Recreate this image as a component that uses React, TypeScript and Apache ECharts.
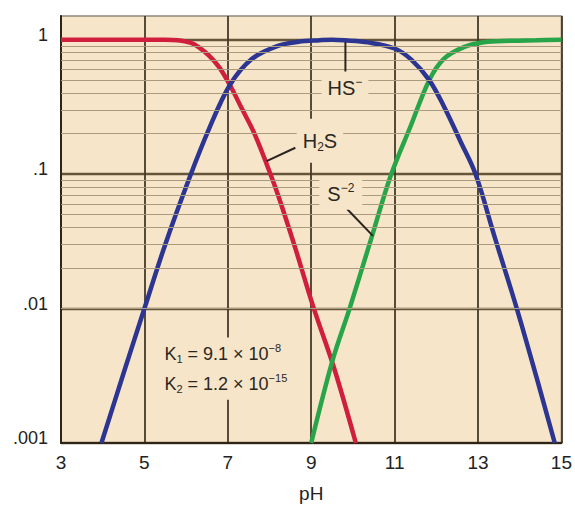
import React, { useEffect, useRef } from 'react';
import * as echarts from 'echarts';

// ---- data ----
const xTickValues = [3, 5, 7, 9, 11, 13, 15];
const yTickValues = [0.001, 0.01, 0.1, 1];
const yTickLabels = ['.001', '.01', '.1', '1'];
const minorDecades = [0.001, 0.01, 0.1];
const minorSteps = [2, 3, 4, 5, 6, 7, 8, 9];

const h2sData: [number, number][] = [
  [3, 1.0], [4, 1.0], [5, 1.0], [5.5, 1.0], [5.8, 0.99], [6.1, 0.95], [6.3, 0.88],
  [6.55, 0.76], [6.8, 0.62], [7.05, 0.46], [7.33, 0.31], [7.62, 0.206], [7.93, 0.119],
  [8.21, 0.069], [8.62, 0.028], [9.05, 0.0103], [9.55, 0.0036], [10.07, 0.001],
];
const hsData: [number, number][] = [
  [3.97, 0.001], [4.5, 0.0033], [5.0, 0.01], [5.5, 0.03], [6.07, 0.092], [6.55, 0.217],
  [7.05, 0.46], [7.58, 0.72], [8.2, 0.9], [8.7, 0.965], [9.2, 0.99], [9.5, 1.0], [9.8, 0.99],
  [10.36, 0.955], [11.0, 0.86], [11.4, 0.71], [11.83, 0.5], [12.18, 0.32], [12.58, 0.175],
  [12.94, 0.1], [13.4, 0.034], [13.93, 0.01], [14.4, 0.0031], [14.84, 0.001],
];
const s2Data: [number, number][] = [
  [9.0, 0.001], [9.52, 0.0042], [9.92, 0.01], [10.45, 0.034], [10.91, 0.098],
  [11.39, 0.23], [11.83, 0.5], [12.18, 0.72], [12.66, 0.88], [13.14, 0.956],
  [13.76, 0.98], [14.4, 0.99], [15, 1.0],
];

// annotation anchors in data coordinates (pH, fraction)
const hsLabelAt: [number, number] = [9.81, 0.44];
const hsTick: [number, number][] = [[9.82, 0.96], [9.82, 0.575]];
const h2sLabelAt: [number, number] = [9.21, 0.177];
const h2sLeader: [number, number][] = [[7.93, 0.125], [8.62, 0.157]];
const s2LabelAt: [number, number] = [9.71, 0.0713];
const s2Leader: [number, number][] = [[9.86, 0.055], [10.48, 0.0347]];
const kBox: [number, number][] = [[5.05, 0.0061], [8.6, 0.0021]];
const k1At: [number, number] = [5.48, 0.0046];
const k2At: [number, number] = [5.48, 0.00275];

const FONT = '"Liberation Sans", Arial, Helvetica, sans-serif';
const BEIGE = '#f6e5c8';
const TEXT = '#2a2722';

const minorValues: number[] = [];
minorDecades.forEach((d) => minorSteps.forEach((m) => minorValues.push(+(d * m).toPrecision(3))));

function richStyles(base: number, small: number) {
  return {
    m: { fontSize: base, fontFamily: FONT, fill: TEXT, lineHeight: base + 4 },
    sup: { fontSize: small, fontFamily: FONT, fill: TEXT, verticalAlign: 'top', lineHeight: 8 },
    sub: { fontSize: small, fontFamily: FONT, fill: TEXT, verticalAlign: 'bottom', lineHeight: 8 },
  } as any;
}

export default function App() {
  const ref = useRef<HTMLDivElement>(null);
  useEffect(() => {
    const el = ref.current;
    if (!el) return;
    const chart = echarts.init(el, null, { renderer: 'svg' });
    const lineCommon = {
      type: 'line' as const,
      smooth: 0.35,
      showSymbol: false,
      symbol: 'none',
      silent: true,
      z: 3,
    };
    chart.setOption({
      animation: false,
      backgroundColor: '#ffffff',
      grid: {
        left: 61, top: 16, right: 10, bottom: 65,
        show: true, backgroundColor: BEIGE, borderColor: '#8f887c', borderWidth: 1.5,
      },
      xAxis: {
        type: 'value', min: 3, max: 15, interval: 2,
        axisLine: { show: true, lineStyle: { color: '#2e2418', width: 2 } },
        axisTick: { show: false },
        axisLabel: {
          fontSize: 19, color: '#222', margin: 10, fontFamily: FONT,
          formatter: (v: number) => (xTickValues.includes(v) ? String(v) : ''),
        },
        splitLine: { show: true, lineStyle: { color: '#45392a', width: 1.8 } },
        name: 'pH', nameLocation: 'middle', nameGap: 41,
        nameTextStyle: { fontSize: 19, color: '#222', fontFamily: FONT },
      },
      yAxis: {
        type: 'log', logBase: 10, min: 0.001, max: 1.5, splitNumber: 3,
        axisLine: { show: true, lineStyle: { color: '#2e2418', width: 2 } },
        axisTick: { show: false },
        axisLabel: {
          fontSize: 18, color: '#222', margin: 13, fontFamily: FONT,
          verticalAlign: 'bottom', lineHeight: 10,
          formatter: (v: number) => {
            const i = yTickValues.findIndex((t) => Math.abs(Math.log10(v) - Math.log10(t)) < 1e-6);
            return i >= 0 ? yTickLabels[i] : '';
          },
        },
        splitLine: { show: true, showMaxLine: false, lineStyle: { color: '#665639', width: 2.4 } },
      },
      series: [
        {
          name: 'minor', type: 'line', data: [], silent: true, z: 1,
          markLine: {
            silent: true, symbol: 'none', animation: false,
            label: { show: false },
            lineStyle: { color: '#aa9b7f', width: 1.1, type: 'solid' },
            emphasis: { disabled: true },
            data: minorValues.map((v) => ({ yAxis: v })),
          },
        },
        { ...lineCommon, name: 'H2S', data: h2sData, lineStyle: { color: '#cf1f3d', width: 4.5 } },
        { ...lineCommon, name: 'S-2', data: s2Data, lineStyle: { color: '#27a548', width: 4.5 } },
        { ...lineCommon, name: 'HS-', data: hsData, lineStyle: { color: '#2d3592', width: 4.5 } },
      ],
    });

    const px = (p: [number, number]) => chart.convertToPixel({ gridIndex: 0 }, p) as unknown as number[];
    const line = (a: [number, number], b: [number, number]) => {
      const p1 = px(a), p2 = px(b);
      return {
        type: 'line', z: 10, silent: true,
        shape: { x1: p1[0], y1: p1[1], x2: p2[0], y2: p2[1] },
        style: { stroke: '#2a2520', lineWidth: 2 },
      };
    };
    const label = (at: [number, number], text: string, base: number, small: number, align: string, pad: number[]) => {
      const p = px(at);
      return {
        type: 'text', z: 11, silent: true, x: p[0], y: p[1],
        style: {
          text, rich: richStyles(base, small), align, verticalAlign: 'middle',
          backgroundColor: BEIGE, padding: pad,
        },
      };
    };
    const b1 = px(kBox[0]), b2 = px(kBox[1]);
    chart.setOption({
      graphic: [
        {
          type: 'rect', z: 9, silent: true,
          shape: { x: b1[0], y: b1[1], width: b2[0] - b1[0], height: b2[1] - b1[1] },
          style: { fill: BEIGE },
        },
        line(hsTick[0], hsTick[1]),
        line(h2sLeader[0], h2sLeader[1]),
        line(s2Leader[0], s2Leader[1]),
        label(hsLabelAt, '{m|HS}{sup|−}', 20, 12, 'center', [4, 6, 4, 6]),
        label(h2sLabelAt, '{m|H}{sub|2}{m|S}', 20, 12, 'center', [10, 6, 10, 6]),
        label(s2LabelAt, '{m|S}{sup|−2}', 20, 12, 'center', [4, 8, 4, 8]),
        label(k1At, '{m|K}{sub|1}{m| = 9.1 × 10}{sup|−8}', 18, 11, 'left', [0, 0, 0, 0]),
        label(k2At, '{m|K}{sub|2}{m| = 1.2 × 10}{sup|−15}', 18, 11, 'left', [0, 0, 0, 0]),
      ],
    });
    return () => chart.dispose();
  }, []);
  return <div ref={ref} style={{ position: 'fixed', left: 0, top: 0, width: 575, height: 508 }} />;
}
